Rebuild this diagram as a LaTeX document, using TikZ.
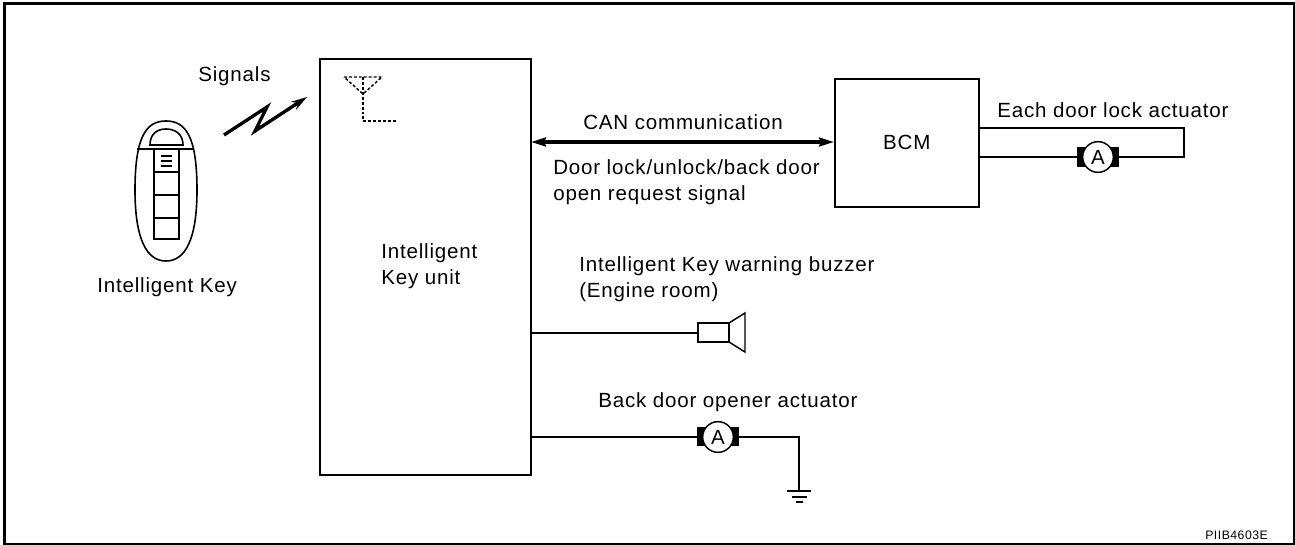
\documentclass[tikz,border=0pt]{standalone}
\usepackage{fontspec}
\setmainfont{Liberation Sans}[LetterSpace=4]
\usetikzlibrary{arrows.meta}
\tikzset{
  x=0.75pt,y=-0.75pt,
  line/.style={draw=black,line width=1.1pt,line join=miter},
  box/.style={draw=black,line width=1.15pt,fill=white,inner sep=0pt},
  lbl/.style={inner sep=0pt,font=\fontsize{15.4}{19}\selectfont,text=black,align=left},
  motor/.style={circle,draw=black,line width=1.1pt,fill=white,minimum size=23pt,inner sep=0pt,font=\fontsize{15.4}{16}\selectfont},
  keyline/.style={draw=black,line width=1.2pt},
  dots/.style={line width=1.1pt,dash pattern=on 2.2pt off 1.5pt},
  canarrow/.style={draw=black,line width=2.4pt,{Stealth[length=11pt,width=6.5pt,inset=1pt]}-{Stealth[length=11pt,width=6.5pt,inset=1pt]}},
}
\begin{document}
\begin{tikzpicture}
\useasboundingbox (0,0) rectangle (1295,545);
\draw[line width=2.25pt] (4.5,3.5) rectangle (1294.5,544);
% Intelligent Key unit
\draw[line] (320,59) rectangle (531,475);
\coordinate (unitcan) at (531,142);
\coordinate (unitbuz) at (531,333);
\coordinate (unitback) at (531,437);
% BCM
\node[box,minimum width=108pt,minimum height=96pt,anchor=north west,font=\fontsize{15.4}{16}\selectfont] (bcm) at (834,78) {BCM};
\coordinate (bcmcan) at (834,142);
\draw[canarrow] (unitcan) -- (bcmcan);
\node[lbl,anchor=base west] (t1) at (583,130) {CAN communication};
\node[lbl,anchor=base west] (t2) at (553,175) {Door lock/unlock/back door};
\node[lbl,anchor=base west] (t3) at (553,201) {open request signal};
\node[lbl,anchor=base west] (t4) at (997,118) {Each door lock actuator};
\node[lbl,anchor=base west] (t5) at (381,258) {Intelligent};
\node[lbl,anchor=base west] (t6) at (381,284) {Key unit};
\node[lbl,anchor=base west] (t7) at (579,272) {Intelligent Key warning buzzer};
\node[lbl,anchor=base west] (t8) at (579,297) {(Engine room)};
\node[lbl,anchor=base west] (t9) at (598,407) {Back door opener actuator};
\node[lbl,anchor=base west] (t10) at (198,82) {Signals};
\node[lbl,anchor=base west] (t11) at (97,292) {Intelligent Key};
\node[anchor=base west,inner sep=0pt,font=\fontsize{9.2}{10}\selectfont] (t12) at (1205,539) {PIIB4603E};
% door lock motor
\fill[black] (1077,147) rectangle (1119,167);
\draw[line] (978,157) -- (1077,157);
\draw[line] (1119,157) -- (1184,157) -- (1184,128) -- (978,128);
\node[motor] (ma) at (1098,157) {A};
% back motor
\fill[black] (697,427) rectangle (739,446);
\draw[line] (unitback) -- (697,437);
\draw[line] (739,437) -- (799,437) -- (799,491);
\node[motor] (mb) at (718,437) {A};
\draw[line] (787,491) -- (811,491);
\draw[line] (792,497) -- (807,497);
\draw[line] (796,502) -- (803,502);
% buzzer
\draw[line] (unitbuz) -- (698,333);
\draw[line] (698,323) rectangle (729,342);
\draw[line] (729,323) -- (745,313) -- (745,352) -- (729,342);
% antenna
\draw[dots] (344,77) -- (382,77) -- (363,94) -- cycle;
\draw[dots] (363,77) -- (363,121) -- (397,121);
% signal arrow
\draw[line width=2.5pt,line join=miter,-{Stealth[length=12pt,width=7pt]}] (224,135) -- (267,107) -- (255,131) -- (307,97);
% key
\draw[keyline] (135,190) .. controls (135,135) and (147,121) .. (166,121) .. controls (185,121) and (197,135) .. (197,190) .. controls (197,240) and (185,261) .. (166,261) .. controls (147,261) and (135,240) .. (135,190) -- cycle;
\draw[keyline] (137,149) -- (194,149);
\draw[keyline] (150,145) .. controls (150,134) and (157,129) .. (166,129) .. controls (175,129) and (183,134) .. (183,145) -- cycle;
\draw[keyline] (154,149) rectangle (179,239);
\draw[keyline] (154,172) -- (179,172);
\draw[keyline] (154,195) -- (179,195);
\draw[keyline] (154,218) -- (179,218);
\draw[line width=1pt] (161,156) -- (172,156);
\draw[line width=1pt] (161,161) -- (172,161);
\draw[line width=1pt] (161,166) -- (172,166);
\end{tikzpicture}
\end{document}
